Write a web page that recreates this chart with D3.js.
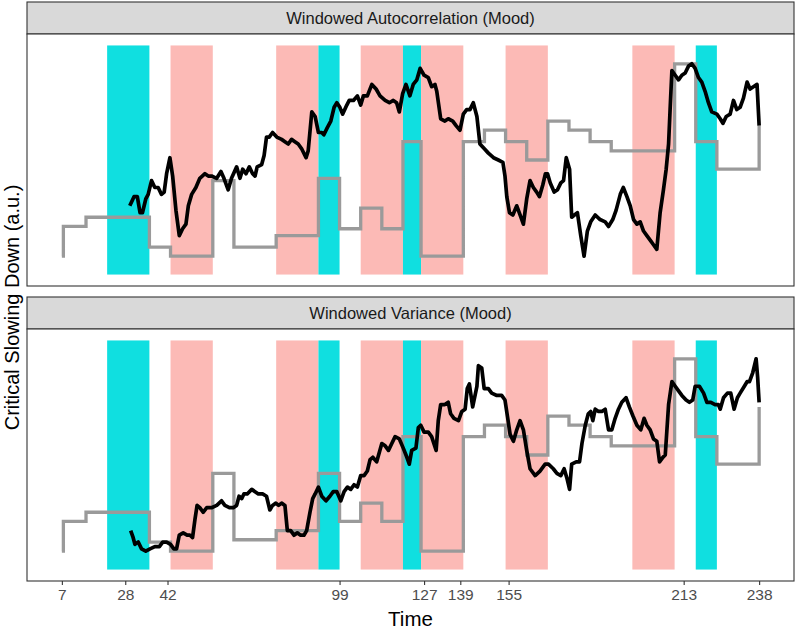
<!DOCTYPE html>
<html lang="en">
<head>
<meta charset="utf-8">
<title>Critical slowing down</title>
<script src="https://d3js.org/d3.v7.min.js"></script>
<style>
  body { margin: 0; background: #fff; }
  text { font-family: "Liberation Sans", Arial, sans-serif; }
</style>
</head>
<body>
<script>
// x axis ticks (days)
var tickDays = [7, 28, 42, 99, 127, 139, 155, 213, 238];

// shaded episodes
var bandStart = [22, 43, 78, 92, 106, 120, 126, 154, 196, 217];
var bandEnd   = [36, 57, 92, 99, 120, 126, 140, 168, 210, 224];
var bandKind  = ["up", "down", "down", "up", "down", "up", "down", "down", "down", "up"];

// weekly step series (same breaks in both panels)
var stepDays = [7, 7.5, 15, 36, 43, 57, 64, 78, 92, 99, 106, 113, 120, 126, 140, 147, 154, 161, 168, 175, 182, 189, 210, 217, 224, 238];
var stepAuto = [8, 21, 25, 12, 8, 41, 12, 17, 42, 20, 29, 20, 58, 8, 58, 63, 58, 50, 67, 63, 58, 54, 92, 58, 46, 65];
var stepVar  = [8, 21, 25, 12, 8, 42, 13, 17, 42, 21, 29, 21, 58, 8, 58, 63, 58, 50, 67, 63, 58, 54, 92, 58, 46, 71];

// windowed autocorrelation
var acDays = [29.5, 30.9, 32.0, 32.9, 33.7, 34.8, 35.6, 36.7, 37.8, 38.9, 40.0, 40.9, 41.7, 42.8, 43.7, 44.8, 45.9, 47.0, 48.1, 48.9,
  50.0, 51.4, 52.7, 54.4, 55.5, 56.6, 58.3, 59.7, 60.7, 62.1, 63.2, 64.9, 66.0, 66.9, 68.0, 69.1, 70.2, 71.0, 71.7, 73.2,
  74.0, 74.8, 75.7, 76.8, 78.2, 79.8, 80.9, 82.0, 83.1, 84.2, 85.3, 86.4, 87.9, 88.6, 89.8, 90.9, 92.0, 93.1, 93.8, 94.9,
  96.1, 97.2, 98.1, 99.1, 100.0, 101.4, 102.2, 103.6, 104.9, 106.0, 106.9, 108.2, 109.7, 111.1, 112.4, 114.1, 115.5, 116.8, 117.9, 118.8,
  119.9, 121.0, 122.3, 123.4, 124.6, 125.7, 127.0, 128.4, 129.5, 130.6, 131.2, 132.5, 133.9, 135.0, 136.5, 137.6, 138.9, 140.0, 141.1, 142.2,
  143.3, 144.5, 145.5, 146.9, 148.3, 150.0, 151.6, 153.1, 153.8, 154.4, 155.3, 156.4, 157.7, 158.8, 159.9, 161.0, 162.1, 163.2, 164.3, 165.2,
  166.3, 167.2, 167.9, 168.8, 170.1, 171.2, 172.3, 173.2, 174.1, 175.2, 175.9, 176.8, 177.8, 178.9, 180.0, 181.1, 182.2, 183.7, 185.3, 187.0,
  188.1, 189.5, 190.6, 192.0, 193.0, 194.2, 195.3, 196.4, 197.5, 198.6, 199.7, 200.8, 201.9, 203.0, 204.1, 205.2, 206.3, 207.2, 208.0, 208.5,
  209.1, 210.2, 211.3, 212.4, 213.5, 214.6, 215.7, 216.8, 217.9, 219.0, 220.1, 221.2, 222.3, 224.0, 225.1, 226.0, 227.1, 228.4, 229.5, 230.6,
  231.7, 232.8, 234.0, 235.0, 236.1, 237.3, 238];
var acValues = [30, 34, 34, 27, 27, 33, 35, 41, 38, 38, 35, 36, 44, 51, 43, 28, 17, 20, 22, 30,
  35, 38, 42, 44, 43, 43, 42, 45, 42, 37, 42, 47, 42, 46, 44, 47, 44, 43, 47, 48,
  52, 60, 60, 62, 60, 59, 58, 57, 59, 58, 57, 55, 51, 54, 71, 69, 62, 62, 61, 64,
  67, 73, 75, 73, 70, 74, 76, 76, 78, 74, 78, 78, 83, 81, 78, 76, 75, 76, 75, 71,
  79, 83, 78, 83, 85, 90, 87, 86, 82, 83, 80, 68, 67, 68, 67, 65, 63, 70, 72, 72,
  75, 69, 57, 55, 53, 51, 50, 49, 43, 34, 27, 26, 30, 26, 22, 33, 41, 38, 36, 34,
  39, 44, 44, 40, 36, 37, 40, 41, 51, 46, 25, 26, 27, 17, 8, 19, 23, 26, 24, 23,
  21, 24, 28, 35, 38, 34, 30, 24, 22, 23, 19, 17, 15, 13, 11, 27, 37, 46, 57, 72,
  89, 87, 85, 87, 88, 91, 92, 90, 86, 84, 80, 75, 71, 70, 68, 66, 69, 70, 76, 72,
  73, 77, 84, 81, 82, 83, 65];

// windowed variance
var varDays = [29.8, 30.6, 31.2, 32.3, 33.4, 34.8, 36.2, 37.8, 39.3, 40.4, 41.7, 43.0, 44.1, 45.0, 45.9, 47.2, 48.5, 49.4, 50.3, 51.1,
  51.8, 52.7, 53.8, 55.0, 56.6, 58.3, 59.9, 61.0, 62.5, 63.8, 64.9, 65.7, 66.6, 67.3, 68.4, 69.9, 71.0, 72.1, 73.5, 74.8,
  75.9, 76.8, 77.9, 78.8, 79.8, 80.9, 81.7, 82.8, 83.9, 85.0, 86.1, 87.2, 88.1, 89.2, 90.1, 90.9, 92.0, 93.1, 94.5, 95.8,
  96.9, 98.1, 99.4, 100.5, 101.6, 102.7, 103.8, 104.9, 106.0, 107.1, 108.2, 109.1, 110.0, 111.3, 113.0, 114.1, 115.2, 116.3, 117.4, 118.8,
  120.1, 121.3, 122.1, 122.9, 124.3, 125.1, 125.9, 127.0, 128.4, 129.5, 131.0, 131.7, 132.5, 133.9, 135.0, 135.8, 136.9, 138.4, 139.5, 140.6,
  141.3, 142.0, 143.1, 144.5, 145.0, 146.1, 146.9, 148.3, 149.4, 151.1, 152.7, 153.8, 154.6, 155.5, 156.6, 157.7, 158.8, 159.9, 161.0, 162.1,
  163.8, 165.4, 167.1, 168.2, 169.8, 171.0, 172.3, 173.4, 174.3, 175.2, 175.9, 177.4, 178.5, 179.3, 180.4, 181.4, 182.2, 182.9, 183.7, 184.8,
  185.9, 187.0, 188.1, 189.2, 190.3, 191.4, 192.5, 193.9, 195.0, 196.2, 197.5, 198.8, 199.9, 200.8, 201.9, 203.0, 204.1, 205.0, 206.1, 206.9,
  208.0, 209.1, 210.2, 211.3, 212.4, 213.8, 214.9, 216.0, 216.8, 218.2, 219.6, 220.7, 222.0, 223.4, 224.5, 225.1, 226.2, 227.5, 228.6, 229.7,
  230.8, 231.7, 233.1, 234.0, 234.8, 235.9, 237.0, 237.5, 238];
var varValues = [17, 14, 11, 12, 9, 8, 9, 10, 10, 12, 12, 11, 9, 9, 15, 16, 15, 15, 14, 22,
  28, 27, 25, 27, 27, 28, 30, 28, 27, 27, 28, 32, 31, 33, 33, 35, 34, 33, 33, 32,
  26, 28, 29, 28, 29, 28, 17, 17, 15, 16, 15, 15, 17, 25, 31, 33, 36, 32, 30, 32,
  34, 34, 30, 34, 36, 35, 37, 36, 41, 41, 43, 48, 49, 47, 55, 54, 52, 55, 58, 57,
  53, 49, 46, 52, 53, 62, 63, 60, 60, 58, 52, 65, 72, 72, 73, 68, 66, 65, 69, 70,
  79, 81, 71, 80, 89, 88, 79, 79, 77, 76, 76, 74, 67, 59, 56, 61, 65, 61, 52, 44,
  41, 43, 46, 46, 44, 42, 41, 44, 40, 35, 46, 47, 47, 55, 63, 68, 69, 65, 70, 69,
  69, 70, 61, 61, 66, 70, 73, 75, 71, 67, 63, 61, 66, 63, 61, 57, 56, 47, 49, 50,
  72, 82, 80, 78, 76, 74, 73, 74, 80, 80, 77, 73, 73, 72, 72, 70, 75, 77, 77, 70,
  75, 77, 80, 82, 82, 86, 92, 84, 73];

var panels = [
  {title: "Windowed Autocorrelation (Mood)", stripTop: 2, top: 34, bottom: 286, days: acDays, values: acValues, step: stepAuto},
  {title: "Windowed Variance (Mood)", stripTop: 297, top: 329, bottom: 581, days: varDays, values: varValues, step: stepVar}
];

var width = 796, height = 629;
var left = 27, right = 794;
var bandColor = {up: "#10DFE0", down: "#FCBAB6"};

var svg = d3.select("body").append("svg")
    .attr("width", width)
    .attr("height", height);

// ggplot-like 5% expansion on the data range
var x = d3.scaleLinear()
    .domain([7 - 0.05 * 231, 238 + 0.05 * 231])
    .range([left, right]);

panels.forEach(function (p) {
    var y = d3.scaleLinear().domain([-5, 105]).range([p.bottom, p.top]);
    var g = svg.append("g");

    // strip
    g.append("rect")
        .attr("x", left).attr("y", p.stripTop)
        .attr("width", right - left).attr("height", p.top - p.stripTop)
        .attr("fill", "#D9D9D9").attr("stroke", "#333").attr("stroke-width", 1.1);
    g.append("text")
        .attr("x", (left + right) / 2).attr("y", p.stripTop + 22)
        .attr("text-anchor", "middle")
        .attr("font-size", 16.5).attr("fill", "#1A1A1A")
        .text(p.title);

    // panel background
    g.append("rect")
        .attr("x", left).attr("y", p.top)
        .attr("width", right - left).attr("height", p.bottom - p.top)
        .attr("fill", "#fff");

    // episodes
    g.selectAll("rect.band")
        .data(bandStart.map(function (s, i) { return {s: s, e: bandEnd[i], k: bandKind[i]}; }))
        .join("rect")
        .attr("class", "band")
        .attr("x", function (d) { return x(d.s); })
        .attr("width", function (d) { return x(d.e) - x(d.s); })
        .attr("y", y(100))
        .attr("height", y(0) - y(100))
        .attr("fill", function (d) { return bandColor[d.k]; });

    // weekly step line
    var stepLine = d3.line()
        .x(function (d) { return x(d[0]); })
        .y(function (d) { return y(d[1]); })
        .curve(d3.curveStepAfter);
    g.append("path")
        .datum(stepDays.map(function (d, i) { return [d, p.step[i]]; }))
        .attr("d", stepLine)
        .attr("fill", "none")
        .attr("stroke", "#9A9A9A")
        .attr("stroke-width", 3.3);

    // windowed indicator
    var line = d3.line()
        .x(function (d) { return x(d[0]); })
        .y(function (d) { return y(d[1]); });
    g.append("path")
        .datum(p.days.map(function (d, i) { return [d, p.values[i]]; }))
        .attr("d", line)
        .attr("fill", "none")
        .attr("stroke", "#000")
        .attr("stroke-width", 3.7)
        .attr("stroke-linejoin", "round");

    // border
    g.append("rect")
        .attr("x", left).attr("y", p.top)
        .attr("width", right - left).attr("height", p.bottom - p.top)
        .attr("fill", "none").attr("stroke", "#333").attr("stroke-width", 1.1);
});

// x axis under the lower panel
var xAxis = svg.append("g")
    .attr("transform", "translate(0," + panels[1].bottom + ")")
    .call(d3.axisBottom(x).tickValues(tickDays).tickSize(4).tickPadding(4));
xAxis.select(".domain").remove();
xAxis.selectAll(".tick line").attr("stroke", "#333").attr("stroke-width", 1.1);
xAxis.selectAll(".tick text")
    .attr("font-family", "Liberation Sans, Arial, sans-serif")
    .attr("font-size", 15.5)
    .attr("fill", "#4D4D4D");

svg.append("text")
    .attr("x", (left + right) / 2).attr("y", 626)
    .attr("text-anchor", "middle")
    .attr("font-size", 20.5).attr("fill", "#000")
    .text("Time");

svg.append("text")
    .attr("transform", "translate(19," + ((panels[0].top + panels[1].bottom) / 2) + ") rotate(-90)")
    .attr("text-anchor", "middle")
    .attr("font-size", 20).attr("fill", "#000")
    .text("Critical Slowing Down (a.u.)");
</script>
</body>
</html>
